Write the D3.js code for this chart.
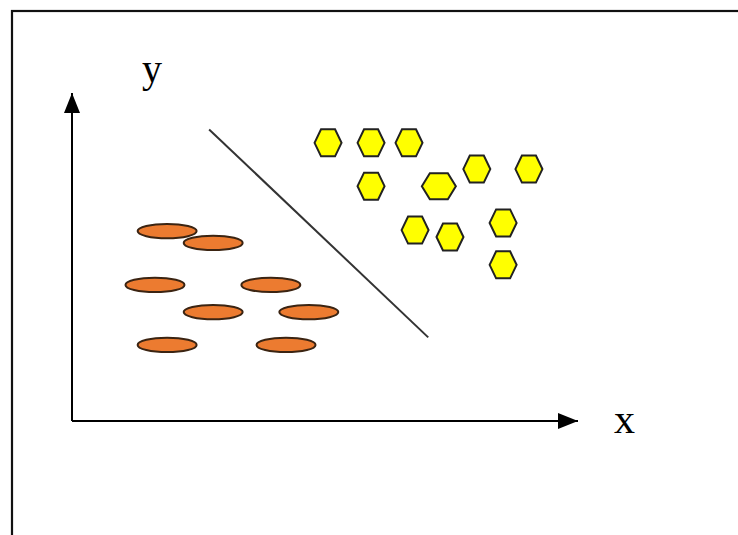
<!DOCTYPE html>
<html>
<head>
<meta charset="utf-8">
<script src="https://cdn.jsdelivr.net/npm/d3@7"></script>
<style>
  body { margin: 0; background: #fff; }
  svg { display: block; }
  .axis-label { font-family: "Liberation Serif", "DejaVu Serif", serif; fill: #000; }
</style>
</head>
<body>
<div id="chart"></div>
<script>
// class A (yellow hexagons) : [x, y]
const hexX = [50.6, 59.1, 66.6, 80.0, 90.3, 59.1, 72.5, 67.8, 74.7, 85.2, 85.2];
const hexY = [84.8, 84.8, 84.8, 76.8, 76.8, 71.6, 71.6, 58.2, 56.1, 60.4, 47.6];
const wideHex = 6; // the one stretched hexagon

// class B (orange ellipses)
const ellX = [18.8, 27.9, 16.4, 39.3, 27.9, 46.8, 18.8, 42.3];
const ellY = [57.9, 54.3, 41.5, 41.5, 33.2, 33.2, 23.2, 23.2];

// separating line
const sepX = [27.1, 70.4];
const sepY = [88.9, 25.5];

const axisLabels = ['x', 'y'];

const width = 738, height = 535;

const svg = d3.select('#chart')
    .append('svg')
    .attr('width', width)
    .attr('height', height);

// frame, runs off right and bottom like the original slide crop
svg.append('rect')
    .attr('x', 12)
    .attr('y', 11)
    .attr('width', 800)
    .attr('height', 800)
    .attr('fill', 'none')
    .attr('stroke', '#111')
    .attr('stroke-width', 2.2);

const xScale = d3.scaleLinear().domain([0, 100]).range([72, 578]);
const yScale = d3.scaleLinear().domain([0, 100]).range([421, 93]);

const defs = svg.append('defs');
defs.append('marker')
    .attr('id', 'arrow')
    .attr('viewBox', '0 0 20 16')
    .attr('refX', 20)
    .attr('refY', 8)
    .attr('markerWidth', 20)
    .attr('markerHeight', 16)
    .attr('markerUnits', 'userSpaceOnUse')
    .attr('orient', 'auto')
    .append('path')
    .attr('d', 'M0,0 L20,8 L0,16 Z')
    .attr('fill', '#000');

// axes
svg.append('line')
    .attr('x1', xScale(0)).attr('y1', yScale(0))
    .attr('x2', xScale(100)).attr('y2', yScale(0))
    .attr('stroke', '#000').attr('stroke-width', 2)
    .attr('marker-end', 'url(#arrow)');

svg.append('line')
    .attr('x1', xScale(0)).attr('y1', yScale(0))
    .attr('x2', xScale(0)).attr('y2', yScale(100))
    .attr('stroke', '#000').attr('stroke-width', 2)
    .attr('marker-end', 'url(#arrow)');

svg.append('text')
    .attr('class', 'axis-label')
    .attr('x', 614)
    .attr('y', 433)
    .attr('font-size', 42)
    .text(axisLabels[0]);

svg.append('text')
    .attr('class', 'axis-label')
    .attr('x', 142)
    .attr('y', 82)
    .attr('font-size', 40)
    .text(axisLabels[1]);

// separating line
svg.append('line')
    .attr('x1', xScale(sepX[0])).attr('y1', yScale(sepY[0]))
    .attr('x2', xScale(sepX[1])).attr('y2', yScale(sepY[1]))
    .attr('stroke', '#333')
    .attr('stroke-width', 2);

// ellipses
svg.selectAll('.ell')
    .data(ellX.map((x, i) => ({ x: x, y: ellY[i] })))
    .join('ellipse')
    .attr('class', 'ell')
    .attr('cx', d => xScale(d.x))
    .attr('cy', d => yScale(d.y))
    .attr('rx', 29.5)
    .attr('ry', 7.2)
    .attr('fill', '#EC7B30')
    .attr('stroke', '#3b2412')
    .attr('stroke-width', 2);

// hexagons
function hexPath(hw, tw, hh) {
    return `M${-hw},0 L${-tw},${-hh} L${tw},${-hh} L${hw},0 L${tw},${hh} L${-tw},${hh} Z`;
}

svg.selectAll('.hex')
    .data(hexX.map((x, i) => ({ x: x, y: hexY[i], wide: i === wideHex })))
    .join('path')
    .attr('class', 'hex')
    .attr('transform', d => `translate(${xScale(d.x)},${yScale(d.y)})`)
    .attr('d', d => d.wide ? hexPath(17, 9, 13) : hexPath(13.5, 7, 13.5))
    .attr('fill', '#FFFF00')
    .attr('stroke', '#222')
    .attr('stroke-width', 2);
</script>
</body>
</html>
